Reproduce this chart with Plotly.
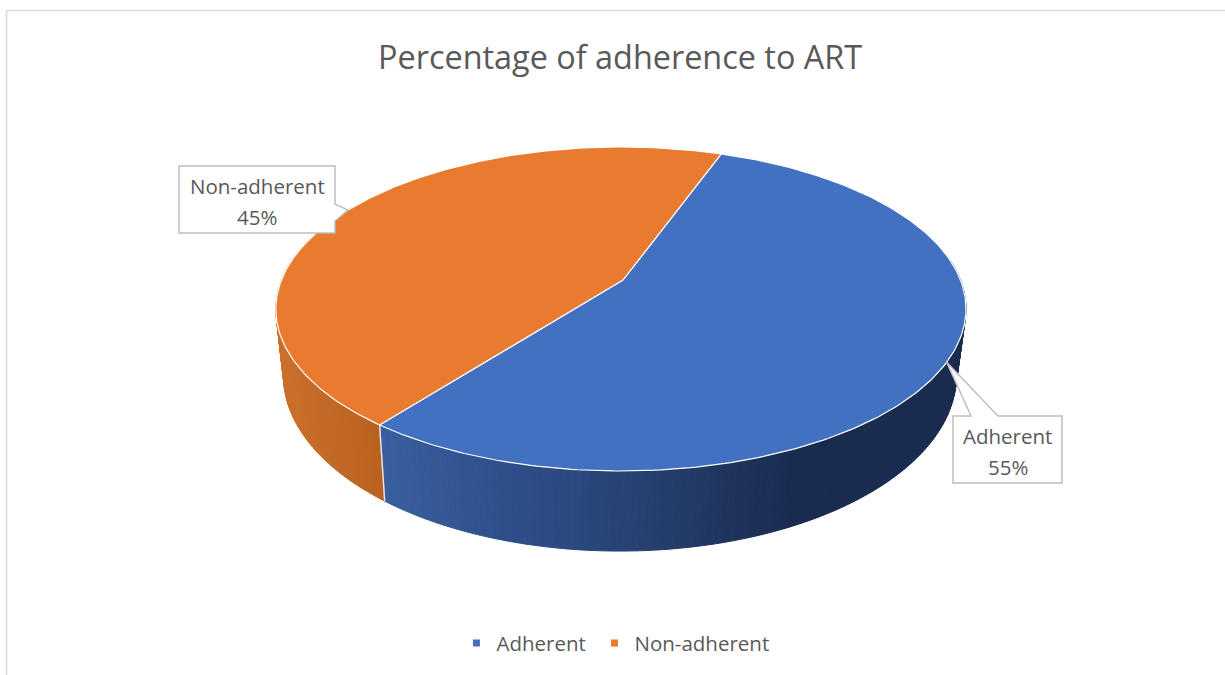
import numpy as np
import plotly.graph_objects as go

# data
categories = ["Adherent", "Non-adherent"]
values = [55, 45]
top_colors = ["#4371C1", "#E97B30"]
title_text = "Percentage of adherence to ART"

# pie geometry (pixel-like axes, perspective disc)
START_DEG = 19.8
K = 0.179
L = 0.006
TOP = dict(cx=623, cy=280, W=339.5, H=156.8)
BOTTOM = dict(cx=622, cy=344, W=331, H=170)
TEXT = "#595959"
GREY = "#BFBFBF"


def project(deg, face, r=1.0):
    t = np.radians(deg)
    u, v = r * np.sin(t), -r * np.cos(t)
    w = 1 - K * v + L * u
    return face["cx"] + face["W"] * u / w, face["cy"] + face["H"] * v / w


def mix(stops, x):
    xs = [s[0] for s in stops]
    rgb = [np.interp(x, xs, [s[1][i] for s in stops]) for i in range(3)]
    return "rgb(%d,%d,%d)" % tuple(int(round(c)) for c in rgb)


side_stops = [
    [(385, (58, 95, 160)), (500, (47, 80, 140)), (620, (40, 68, 118)),
     (720, (32, 54, 95)), (800, (26, 43, 80)), (970, (26, 43, 80))],
    [(280, (203, 112, 43)), (385, (185, 98, 32))],
]

total = sum(values)
spans = [v / total * 360 for v in values]
edges = [START_DEG]
for s in spans:
    edges.append(edges[-1] + s)

fig = go.Figure()

# side wall: gradient strips on the front half only
visible = [(80, edges[1]), (edges[1], 300)]
for i in range(len(values)):
    a, b = visible[i]
    steps = np.linspace(a, b, int(b - a) + 2)
    for d0, d1 in zip(steps[:-1], steps[1:]):
        x0, y0 = project(d0, TOP)
        x1, y1 = project(d1, TOP)
        x2, y2 = project(d1, BOTTOM)
        x3, y3 = project(d0, BOTTOM)
        col = mix(side_stops[i], (x0 + x3) / 2)
        fig.add_trace(go.Scatter(
            x=[x0, x1, x2, x3, x0], y=[y0, y1, y2, y3, y0], mode="lines",
            fill="toself", fillcolor=col, line=dict(color=col, width=1),
            hoverinfo="skip", showlegend=False))

# divider on the wall
dx0, dy0 = project(edges[1], TOP)
dx1, dy1 = project(edges[1], BOTTOM)
fig.add_trace(go.Scatter(x=[dx0, dx1], y=[dy0, dy1], mode="lines",
                         line=dict(color="#E4E4E4", width=1.5),
                         hoverinfo="skip", showlegend=False))

# top face slices
for i, name in enumerate(categories):
    ang = np.linspace(edges[i], edges[i + 1], 240)
    px, py = project(ang, TOP)
    cx, cy = project(0.0, TOP, r=0.0)
    fig.add_trace(go.Scatter(
        x=[cx, *px, cx], y=[cy, *py, cy], mode="lines", fill="toself",
        fillcolor=top_colors[i], line=dict(color="white", width=1.2),
        name=name, text=f"{name}: {values[i]}%", hoverinfo="text", showlegend=False))

# legend keys (one legend box per entry so the spacing can be set)
for i, name in enumerate(categories):
    fig.add_trace(go.Scatter(
        x=[None], y=[None], mode="markers", name=name,
        legend="legend" if i == 0 else "legend2",
        marker=dict(symbol="square", size=7, color=top_colors[i])))

# callouts
box_a = (953, 416, 1062, 483)
box_n = (179, 166, 335, 233)
shapes = []
tip_x, tip_y = project(edges[0] + spans[0] / 2, TOP)
l, t, r, b = box_a
shapes.append(dict(
    type="path", xref="x", yref="y", fillcolor="white", layer="above",
    line=dict(color=GREY, width=1.5),
    path=f"M{l},{t} L971,{t} L{tip_x:.1f},{tip_y:.1f} L998,{t} L{r},{t} L{r},{b} L{l},{b} Z"))
tip_x, tip_y = project(edges[1] + spans[1] / 2, TOP)
l, t, r, b = box_n
shapes.append(dict(
    type="path", xref="x", yref="y", fillcolor="white", layer="above",
    line=dict(color=GREY, width=1.5),
    path=f"M{l},{t} L{r},{t} L{r},204 L{tip_x:.1f},{tip_y:.1f} L{r},221 L{r},{b} L{l},{b} Z"))

# chart frame (top and left edges only are in view)
shapes.append(dict(type="line", xref="x", yref="y", x0=6.5, x1=1225, y0=10.5, y1=10.5,
                   line=dict(color="#D9D9D9", width=1.5), layer="above"))
shapes.append(dict(type="line", xref="x", yref="y", x0=6.5, x1=6.5, y0=10.5, y1=675,
                   line=dict(color="#D9D9D9", width=1.5), layer="above"))

label_font = dict(family="Open Sans", size=20.5, color=TEXT)
annotations = []
for box, name, val in ((box_a, categories[0], values[0]), (box_n, categories[1], values[1])):
    xc = (box[0] + box[2]) / 2
    top_line = box[1] + 19.5
    for j, txt in enumerate((name, f"{val}%")):
        annotations.append(dict(x=xc, y=top_line + j * 31.5, xref="x", yref="y", text=txt,
                                showarrow=False, font=label_font, align="center"))

legend_common = dict(orientation="h", xanchor="left", y=0.047, yanchor="middle",
                     font=label_font, bgcolor="rgba(0,0,0,0)")

fig.update_layout(
    width=1225, height=675, autosize=False,
    margin=dict(l=0, r=0, t=0, b=0),
    paper_bgcolor="white", plot_bgcolor="white",
    title=dict(text=title_text, x=0.5062, xanchor="center", y=0.915, yanchor="middle",
               font=dict(family="Open Sans", size=32.4, color=TEXT)),
    xaxis=dict(range=[0, 1225], visible=False, fixedrange=True),
    yaxis=dict(range=[675, 0], visible=False, fixedrange=True),
    legend=dict(x=0.3726, **legend_common),
    legend2=dict(x=0.4853, **legend_common),
    shapes=shapes, annotations=annotations,
)

fig.write_html("out.html", config={"displayModeBar": False},
               post_script="document.body.style.margin='0';document.body.style.overflow='hidden';")
